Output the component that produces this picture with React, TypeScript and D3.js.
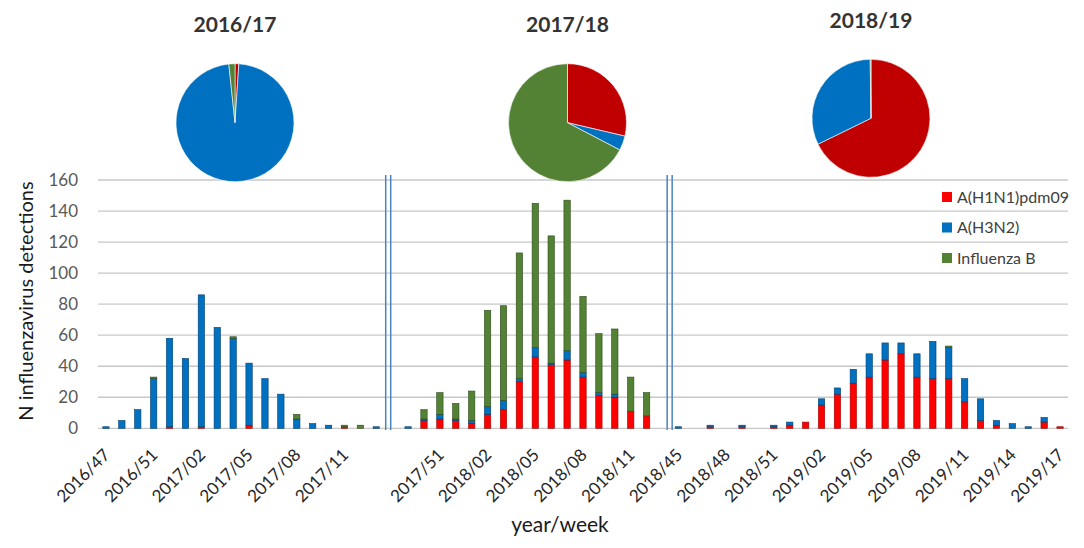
import React, { useEffect, useRef } from 'react';
import * as d3 from 'd3';

// week categories per season (only every 3rd label is printed)
const season1Weeks = [
  '2016/47', '2016/49', '2016/50', '2016/51', '2016/52', '2017/01', '2017/02', '2017/03', '2017/04',
  '2017/05', '2017/06', '2017/07', '2017/08', '2017/09', '2017/10', '2017/11', '2017/12', '2017/13',
];
const season2Weeks = [
  '2017/49', '2017/50', '2017/51', '2017/52', '2018/01', '2018/02', '2018/03', '2018/04',
  '2018/05', '2018/06', '2018/07', '2018/08', '2018/09', '2018/10', '2018/11', '2018/12',
];
const season3Weeks = [
  '2018/45', '2018/46', '2018/47', '2018/48', '2018/49', '2018/50', '2018/51', '2018/52', '2019/01',
  '2019/02', '2019/03', '2019/04', '2019/05', '2019/06', '2019/07', '2019/08', '2019/09', '2019/10',
  '2019/11', '2019/12', '2019/13', '2019/14', '2019/15', '2019/16', '2019/17',
];

// detections per week
const h1n1Season1 = [0, 0, 0, 0, 1, 0, 1, 0, 0, 2, 0, 0, 0, 0, 0, 1, 0, 0];
const h3n2Season1 = [1, 5, 12, 32, 57, 45, 85, 65, 58, 40, 32, 22, 6, 3, 2, 0, 0, 1];
const fluBSeason1 = [0, 0, 0, 1, 0, 0, 0, 0, 1, 0, 0, 0, 3, 0, 0, 1, 2, 0];

const h1n1Season2 = [0, 5, 6, 5, 3, 9, 12, 30, 46, 41, 44, 33, 21, 20, 11, 8];
const h3n2Season2 = [1, 1, 3, 1, 2, 5, 6, 2, 6, 1, 6, 3, 2, 2, 0, 0];
const fluBSeason2 = [0, 6, 14, 10, 19, 62, 61, 81, 93, 82, 97, 49, 38, 42, 22, 15];

const h1n1Season3 = [0, 0, 1, 0, 1, 0, 1, 2, 4, 15, 22, 29, 33, 44, 48, 33, 32, 32, 17, 5, 2, 0, 0, 4, 1];
const h3n2Season3 = [1, 0, 1, 0, 1, 0, 1, 2, 0, 4, 4, 9, 15, 11, 7, 15, 24, 20, 15, 14, 3, 3, 1, 3, 0];
const fluBSeason3 = [0, 0, 0, 0, 0, 0, 0, 0, 0, 0, 0, 0, 0, 0, 0, 0, 0, 1, 0, 0, 0, 0, 0, 0, 0];

const seasonNames = ['2016/17', '2017/18', '2018/19'];
const subtypes = ['A(H1N1)pdm09', 'A(H3N2)', 'Influenza B'];
const yTicks = [0, 20, 40, 60, 80, 100, 120, 140, 160];

const barColors = ['#FF0000', '#0070C0', '#548235'];
const barEdges = ['#9a0000', '#003f70', '#2f4a1d'];
const pieColors = ['#C00000', '#0070C0', '#548235'];

const WIDTH = 1084;
const HEIGHT = 548;

type Row = { idx: number; h1: number; h3: number; b: number };

const InfluenzaChart: React.FC = () => {
  const svgRef = useRef<SVGSVGElement>(null);

  useEffect(() => {
    const svgElement = svgRef.current;
    if (!svgElement) return;
    const svg = d3.select(svgElement);
    svg.selectAll('*').remove();

    const seasons = [
      { weeks: season1Weeks, h1: h1n1Season1, h3: h3n2Season1, b: fluBSeason1 },
      { weeks: season2Weeks, h1: h1n1Season2, h3: h3n2Season2, b: fluBSeason2 },
      { weeks: season3Weeks, h1: h1n1Season3, h3: h3n2Season3, b: fluBSeason3 },
    ];

    // one long category axis, with an empty slot between seasons
    const labels: string[] = [];
    const rows: Row[] = [];
    const gapIdx: number[] = [];
    seasons.forEach((s, si) => {
      if (si > 0) {
        gapIdx.push(labels.length);
        labels.push('');
      }
      s.weeks.forEach((w, i) => {
        rows.push({ idx: labels.length, h1: s.h1[i], h3: s.h3[i], b: s.b[i] });
        labels.push(w);
      });
    });

    const x = d3
      .scaleBand<number>()
      .domain(d3.range(labels.length))
      .range([98, 1068]);
    const bw = x.bandwidth();

    const y = d3.scaleLinear().domain([0, 160]).range([428.3, 180]);

    // grid
    svg.append('g')
      .selectAll('line')
      .data(yTicks)
      .enter()
      .append('line')
      .attr('x1', 98)
      .attr('x2', 1068)
      .attr('y1', d => y(d))
      .attr('y2', d => y(d))
      .style('stroke', '#c8c8c8')
      .style('stroke-width', 1.3);

    svg.append('g')
      .selectAll('text')
      .data(yTicks)
      .enter()
      .append('text')
      .attr('x', 78)
      .attr('y', d => y(d))
      .attr('dy', '0.36em')
      .attr('text-anchor', 'end')
      .style('font-family', 'Lato, sans-serif')
      .style('font-size', '17px')
      .style('fill', '#595959')
      .text(d => d);

    // stacked bars
    const stack = d3.stack<Row>().keys(['h1', 'h3', 'b']);
    const layers = stack(rows);
    const barW = bw * 0.4;

    layers.forEach((layer, li) => {
      svg.append('g')
        .selectAll('rect')
        .data(layer.filter(d => d[1] - d[0] > 0))
        .enter()
        .append('rect')
        .attr('x', d => (x(d.data.idx) as number) + (bw - barW) / 2)
        .attr('y', d => y(d[1]))
        .attr('width', barW)
        .attr('height', d => y(d[0]) - y(d[1]))
        .style('fill', barColors[li])
        .style('stroke', barEdges[li])
        .style('stroke-width', 0.6);
    });

    // season separators (double lines)
    const sepX = [
      (x(gapIdx[0]) as number) + bw * 0.25,
      (x(gapIdx[1] + 1) as number) - bw * 0.05,
    ];
    sepX.forEach(cx => {
      [-2.5, 2.5].forEach(off => {
        svg.append('line')
          .attr('x1', cx + off)
          .attr('x2', cx + off)
          .attr('y1', 175)
          .attr('y2', 430)
          .style('stroke', '#4a83c4')
          .style('stroke-width', 1.5);
      });
    });

    // x tick labels
    svg.append('g')
      .selectAll('text')
      .data(labels.map((l, i) => ({ l, i })).filter(d => d.i % 3 === 0 && d.l))
      .enter()
      .append('text')
      .attr('transform', d => `translate(${(x(d.i) as number) + bw / 2 + 5}, 456) rotate(-45)`)
      .attr('text-anchor', 'end')
      .style('font-family', 'Lato, sans-serif')
      .style('font-size', '17px')
      .style('fill', '#262626')
      .text(d => d.l);

    // axis titles
    svg.append('text')
      .attr('x', 560)
      .attr('y', 532)
      .attr('text-anchor', 'middle')
      .style('font-family', 'Lato, sans-serif')
      .style('font-size', '21px')
      .style('fill', '#1a1a1a')
      .text('year/week');

    svg.append('text')
      .attr('transform', 'translate(33, 301) rotate(-90)')
      .attr('text-anchor', 'middle')
      .style('font-family', 'Lato, sans-serif')
      .style('font-size', '20px')
      .style('fill', '#1a1a1a')
      .text('N influenzavirus detections');

    // legend
    const legend = svg.append('g').attr('transform', 'translate(942, 192)');
    subtypes.forEach((name, i) => {
      legend.append('rect')
        .attr('x', 0)
        .attr('y', i * 30.5)
        .attr('width', 10)
        .attr('height', 10)
        .style('fill', barColors[i]);
      legend.append('text')
        .attr('x', 15)
        .attr('y', i * 30.5 + 10.5)
        .style('font-family', 'Lato, sans-serif')
        .style('font-size', '16px')
        .style('fill', '#404040')
        .text(name);
    });

    // season pies, from the weekly totals
    const pieCentres = [
      { cx: 235, cy: 122.7 },
      { cx: 567.5, cy: 122.7 },
      { cx: 871, cy: 118.3 },
    ];
    const pie = d3.pie<number>().sort(null).value(d => d);
    const arc = d3.arc<d3.PieArcDatum<number>>().innerRadius(0).outerRadius(59);

    seasons.forEach((s, si) => {
      const totals = [d3.sum(s.h1), d3.sum(s.h3), d3.sum(s.b)];
      const { cx, cy } = pieCentres[si];
      const g = svg.append('g').attr('transform', `translate(${cx}, ${cy})`);
      g.selectAll('path')
        .data(pie(totals))
        .enter()
        .append('path')
        .attr('d', arc)
        .style('fill', (_, i) => pieColors[i])
        .style('stroke', '#ffffff')
        .style('stroke-width', 0.6);

      svg.append('text')
        .attr('x', cx)
        .attr('y', cy - 90.5)
        .attr('text-anchor', 'middle')
        .style('font-family', 'Lato, sans-serif')
        .style('font-size', '21px')
        .style('font-weight', 'bold')
        .style('fill', '#333333')
        .text(seasonNames[si]);
    });
  }, []);

  return (
    <svg
      ref={svgRef}
      width={WIDTH}
      height={HEIGHT}
      style={{ position: 'absolute', left: 0, top: 0, background: '#ffffff' }}
    />
  );
};

export default function App() {
  return <InfluenzaChart />;
}
